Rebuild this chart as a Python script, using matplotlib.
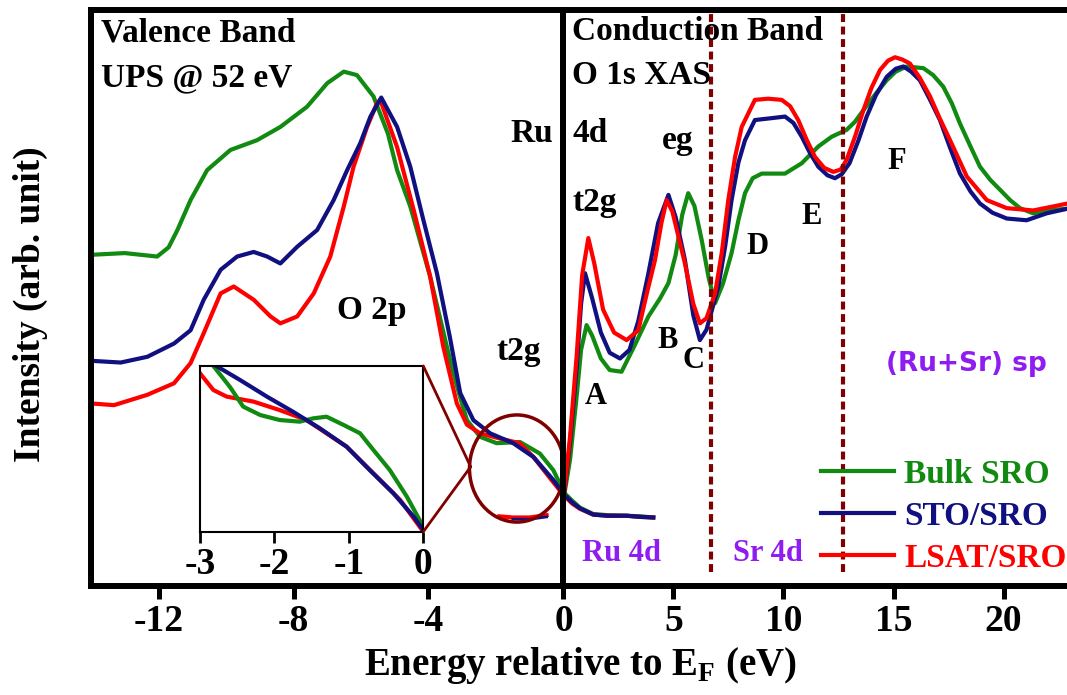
import matplotlib
matplotlib.use("Agg")
import matplotlib.pyplot as plt
from matplotlib.patches import Ellipse, ConnectionPatch

plt.rcParams['font.family'] = ['Liberation Serif', 'DejaVu Serif']
plt.rcParams['font.weight'] = 'bold'
plt.rcParams['mathtext.fontset'] = 'custom'
plt.rcParams['mathtext.rm'] = 'Liberation Serif'
plt.rcParams['mathtext.bf'] = 'Liberation Serif:bold'
plt.rcParams['axes.unicode_minus'] = False

# ---------------- data ----------------
labels = ['Bulk SRO', 'STO/SRO', 'LSAT/SRO']
colors = ['#108a10', '#101080', '#ff0000']

# valence band (UPS), left panel
vb_bulk_x = [-14.0, -13.0, -12.04, -11.7, -11.44, -11.05, -10.56, -9.87, -9.08, -8.39, -7.60,
             -7.0, -6.51, -6.12, -5.63, -5.2, -4.93, -4.54, -3.95, -3.36, -3.1, -2.86, -2.47,
             -1.98, -1.29, -0.70, -0.30, 0.0]
vb_bulk_y = [57.5, 57.8, 57.2, 58.8, 61.8, 67.0, 72.2, 75.7, 77.4, 79.7, 83.2,
             87.3, 89.3, 88.7, 85.0, 78.5, 72.2, 65.9, 53.7, 39.2, 33.5, 28.8, 25.9,
             24.8, 25.0, 23.0, 20.1, 16.5]
vb_sto_x = [-14.0, -13.12, -12.33, -11.54, -11.05, -10.66, -10.16, -9.67, -9.18, -8.78, -8.39,
            -7.89, -7.30, -6.81, -6.41, -6.02, -5.72, -5.40, -4.93, -4.54, -4.15, -3.75, -3.36,
            -3.06, -2.67, -2.17, -1.49, -0.89, -0.30, 0.0]
vb_sto_y = [39.1, 38.8, 39.8, 42.1, 44.4, 49.7, 54.9, 57.2, 58.0, 57.2, 56.0,
            58.9, 61.8, 67.0, 72.2, 76.9, 81.5, 84.8, 79.7, 72.8, 63.5, 54.3, 43.0,
            33.5, 28.8, 26.5, 24.8, 22.4, 18.4, 16.0]
vb_lsat_x = [-14.0, -13.32, -12.33, -11.54, -11.05, -10.66, -10.16, -9.77, -9.18, -8.68, -8.39,
             -7.89, -7.40, -6.91, -6.51, -6.22, -5.82, -5.53, -5.43, -4.93, -4.44, -3.95, -3.56,
             -3.16, -2.86, -2.47, -1.88, -1.30, -0.89, -0.30, 0.0]
vb_lsat_y = [31.7, 31.4, 33.2, 35.2, 38.7, 43.9, 50.8, 52.0, 49.7, 46.8, 45.6,
             46.8, 50.8, 57.2, 65.9, 72.8, 79.7, 83.8, 84.4, 76.2, 65.3, 53.7, 41.5,
             31.7, 28.0, 26.5, 25.6, 24.8, 22.4, 18.0, 15.8]

# valence band tail drawn past E_F (right panel scale)
vb_tail_x = [0.0, 0.4, 0.75, 1.35, 2.0, 2.87, 3.5, 4.08]
vb_tail_bulk = [16.3, 14.8, 13.6, 12.5, 12.3, 12.2, 12.1, 11.9]
vb_tail_sto = [16.0, 14.5, 13.5, 12.4, 12.2, 12.2, 12.0, 11.9]
vb_tail_lsat = [15.8, 14.3, 13.4, 12.4, 12.2, 12.2, 12.0, 11.9]

# short pieces of the curves seen along the bottom of the circle
echo_x = [-1.9, -1.5, -1.0, -0.5]
echo_y = [12.1, 11.9, 11.9, 12.3]

# conduction band (O 1s XAS), right panel
cb_bulk_x = [0.0, 0.3, 0.6, 0.8, 1.05, 1.3, 1.7, 2.1, 2.64, 3.2, 3.86, 4.4, 4.77, 5.1, 5.4, 5.67,
             5.95, 6.28, 6.6, 6.89, 7.25, 7.64, 7.95, 8.25, 8.6, 9.01, 10.07, 10.83, 11.58, 12.19,
             12.87, 13.25, 13.63, 14.2, 14.69, 15.1, 15.6, 16.36, 16.8, 17.26, 17.65, 18.02, 18.5,
             18.93, 19.4, 19.84, 20.3, 20.75, 21.35, 22.26, 22.9]
cb_bulk_y = [15.0, 22.0, 33.0, 41.0, 45.3, 43.5, 39.5, 37.5, 37.2, 41.5, 46.8, 50.0, 52.6, 57.5, 64.5, 68.2,
             66.0, 60.1, 53.5, 49.1, 52.5, 57.8, 63.5, 68.2, 70.8, 71.6, 71.6, 73.4, 76.3, 78.0,
             79.2, 80.6, 82.6, 85.5, 87.8, 89.3, 90.2, 89.9, 88.7, 86.7, 83.8, 80.3, 76.3,
             72.8, 70.5, 68.8, 67.0, 65.6, 64.7, 65.3, 65.5]
cb_sto_x = [0.0, 0.3, 0.6, 0.8, 0.98, 1.3, 1.7, 2.1, 2.57, 3.0, 3.4, 3.86, 4.3, 4.77, 5.1, 5.52,
            5.9, 6.2, 6.5, 7.04, 7.35, 7.64, 7.95, 8.25, 8.7, 9.4, 10.07, 10.45, 10.83, 11.2, 11.58,
            12.0, 12.34, 12.65, 13.0, 13.4, 13.78, 14.2, 14.69, 15.1, 15.45, 15.8, 16.2, 16.65,
            17.11, 17.55, 18.02, 18.5, 18.93, 19.5, 20.15, 21.05, 21.96, 22.9]
cb_sto_y = [15.0, 25.0, 38.0, 49.0, 54.3, 50.0, 44.0, 40.5, 39.5, 41.0, 46.0, 54.3, 63.0, 67.9, 64.0, 56.6,
            47.0, 42.7, 44.5, 52.0, 59.0, 67.0, 73.5, 77.4, 80.9, 81.2, 81.5, 80.4, 78.0, 75.2, 72.8,
            71.3, 70.8, 71.5, 73.4, 77.3, 81.5, 85.2, 88.4, 89.8, 90.2, 89.3, 87.8, 84.5,
            80.9, 76.3, 71.6, 68.5, 66.4, 64.8, 63.8, 63.5, 64.7, 65.5]
cb_lsat_x = [0.0, 0.3, 0.6, 0.85, 1.13, 1.4, 1.8, 2.3, 2.87, 3.4, 3.8, 4.16, 4.45, 4.69, 4.95, 5.52,
             5.9, 6.2, 6.5, 6.89, 7.2, 7.49, 7.8, 8.1, 8.7, 9.3, 9.92, 10.3, 10.67, 11.05, 11.43,
             11.85, 12.26, 12.6, 12.87, 13.25, 13.63, 14.0, 14.39, 14.75, 15.07, 15.4, 15.75, 16.2,
             16.66, 17.1, 17.57, 18.33, 19.24, 20.15, 21.35, 22.26, 22.9]
cb_lsat_y = [15.0, 26.0, 40.0, 54.0, 60.4, 56.0, 48.0, 44.0, 42.7, 44.4, 51.0, 56.6, 63.0, 67.0, 65.0, 56.0,
             49.0, 45.6, 46.5, 50.8, 58.0, 67.0, 74.5, 79.7, 84.4, 84.6, 84.4, 83.3, 80.9, 77.5, 74.5,
             72.6, 71.9, 72.3, 74.0, 78.0, 82.6, 86.5, 89.6, 91.2, 91.8, 91.4, 90.7, 88.2,
             85.0, 81.2, 77.4, 71.1, 67.0, 65.6, 65.2, 65.9, 66.4]

# inset: zoom of the valence band edge
ins_bulk_x = [-2.82, -2.60, -2.42, -2.19, -1.93, -1.66, -1.48, -1.30, -1.07, -0.85, -0.67, -0.45, -0.22, 0.0]
ins_bulk_y = [1.0, 0.875, 0.755, 0.704, 0.674, 0.664, 0.684, 0.694, 0.644, 0.594, 0.493, 0.372, 0.211, 0.03]
ins_sto_x = [-2.78, -2.46, -2.10, -1.75, -1.39, -1.03, -0.72, -0.40, -0.13, 0.0]
ins_sto_y = [1.0, 0.915, 0.815, 0.724, 0.624, 0.513, 0.372, 0.231, 0.091, 0.01]
ins_lsat_x = [-3.0, -2.82, -2.64, -2.28, -1.93, -1.57, -1.03, -0.67, -0.31, 0.0]
ins_lsat_y = [0.956, 0.855, 0.815, 0.785, 0.734, 0.674, 0.513, 0.352, 0.191, 0.0]

vb_ticks = [-12, -8, -4]
cb_ticks = [0, 5, 10, 15, 20]
ins_ticks = [-3, -2, -1, 0]
region_edges = [6.69, 12.69]

# ---------------- figure ----------------
fig = plt.figure(figsize=(10.67, 6.95), dpi=100)
ax_l = fig.add_axes([0.0853, 0.1568, 0.4428, 0.8288])
ax_r = fig.add_axes([0.5281, 0.1568, 0.4722, 0.8288])
ax_r.patch.set_visible(False)

dark_red = '#800000'
purple = '#8f1cf0'
lw = 3.0
fs = 24

for ax in (ax_l, ax_r):
    ax.set_ylim(0, 100)
    ax.set_yticks([])
    for sp in ax.spines.values():
        sp.set_linewidth(4.3)
    ax.tick_params(axis='x', direction='out', length=9, width=3.6, labelsize=27, pad=4)
ax_r.spines['right'].set_visible(False)

ax_l.set_xlim(-14, 0)
ax_l.set_xticks(vb_ticks)
ax_r.set_xlim(0, 22.9)
ax_r.set_xticks(cb_ticks)

# valence band
for xs, ys, c in [(vb_bulk_x, vb_bulk_y, colors[0]), (vb_lsat_x, vb_lsat_y, colors[2]),
                  (vb_sto_x, vb_sto_y, colors[1])]:
    ax_l.plot(xs, ys, color=c, lw=lw, solid_joinstyle='round')
for ys, c in [(vb_tail_bulk, colors[0]), (vb_tail_lsat, colors[2]), (vb_tail_sto, colors[1])]:
    ax_r.plot(vb_tail_x, ys, color=c, lw=lw)
ax_l.plot(echo_x, echo_y, color=colors[2], lw=lw)
ax_l.plot(echo_x[1:], [v - 0.3 for v in echo_y[1:]], color=colors[1], lw=lw - 1)

# conduction band
for xs, ys, c, lab in [(cb_bulk_x, cb_bulk_y, colors[0], labels[0]),
                       (cb_sto_x, cb_sto_y, colors[1], labels[1]),
                       (cb_lsat_x, cb_lsat_y, colors[2], labels[2])]:
    ax_r.plot(xs, ys, color=c, lw=lw, label=lab, solid_joinstyle='round')

for xv in region_edges:
    ax_r.axvline(xv, ymin=0.024, ymax=1, color=dark_red, lw=3, linestyle=(0, (1.9, 1.1)))

leg = ax_r.legend(loc='lower left', bbox_to_anchor=(0.5105, 0.021), frameon=False,
                  fontsize=fs, handlelength=2.2, handletextpad=0.3, labelspacing=0.33,
                  borderpad=0, borderaxespad=0, labelcolor='linecolor')

# circle marking the t2g region
circ = Ellipse((-1.38, 20.4), 2.81, 18.6, fill=False, edgecolor=dark_red, lw=2.5,
               clip_on=False, zorder=5)
ax_l.add_patch(circ)

# text labels
ax_l.text(-13.71, 96.0, 'Valence Band', fontsize=fs, ha='left', va='center')
ax_l.text(-13.71, 88.2, 'UPS @ 52 eV', fontsize=fs, ha='left', va='center')
ax_l.text(-5.67, 47.9, 'O 2p', fontsize=fs, ha='center', va='center')
ax_l.text(-1.32, 40.7, 't2g', fontsize=fs, ha='center', va='center')
ax_l.text(-0.3, 78.6, 'Ru', fontsize=fs, ha='right', va='center')
ax_r.text(0.37, 96.2, 'Conduction Band', fontsize=fs, ha='left', va='center')
ax_r.text(0.37, 88.7, 'O 1s XAS', fontsize=fs, ha='left', va='center')
ax_r.text(0.39, 78.6, '4d', fontsize=fs, ha='left', va='center')
ax_r.text(5.2, 77.4, 'eg', fontsize=fs, ha='center', va='center')
ax_r.text(0.43, 66.5, 't2g', fontsize=fs, ha='left', va='center')
for lab, xv, yv in [('A', 1.48, 32.9), ('B', 4.75, 42.7), ('C', 5.89, 39.2),
                    ('D', 8.80, 58.9), ('E', 11.3, 64.1), ('F', 15.16, 73.7)]:
    ax_r.text(xv, yv, lab, fontsize=22, ha='center', va='center')
ax_r.text(18.3, 38.6, '(Ru+Sr) sp', fontsize=19, ha='center', va='center', color=purple,
          family='DejaVu Sans', fontweight='bold')
ax_r.text(0.83, 5.7, 'Ru 4d', fontsize=22, ha='left', va='center', color=purple)
ax_r.text(7.72, 5.7, 'Sr 4d', fontsize=22, ha='left', va='center', color=purple)

fig.text(580 / 1067, 0.0288, r'Energy relative to E$_\mathbf{F}$ (eV)', fontsize=28,
         ha='center', va='baseline')
fig.text(30 / 1067, 1 - 304 / 695, 'Intensity (arb. unit)', fontsize=27, rotation=90,
         ha='center', va='center')

# inset
ax_in = fig.add_axes([200 / 1067, 1 - 531.7 / 695, 223.3 / 1067, 165.7 / 695])
ax_in.plot(ins_lsat_x, ins_lsat_y, color=colors[2], lw=lw)
ax_in.plot(ins_bulk_x, ins_bulk_y, color=colors[0], lw=lw)
ax_in.plot(ins_sto_x, ins_sto_y, color=colors[1], lw=lw)
ax_in.set_xlim(-3, 0)
ax_in.set_ylim(0, 1)
ax_in.set_yticks([])
ax_in.set_xticks(ins_ticks)
ax_in.tick_params(axis='x', direction='out', length=8, width=2, labelsize=27, pad=3)
for sp in ax_in.spines.values():
    sp.set_linewidth(1.5)

for corner in [(1, 1), (1, 0)]:
    con = ConnectionPatch(xyA=corner, coordsA=ax_in.transAxes, xyB=(-2.75, 20.7),
                          coordsB=ax_l.transData, color=dark_red, lw=2)
    fig.add_artist(con)

fig.savefig('out.png', dpi=100)
